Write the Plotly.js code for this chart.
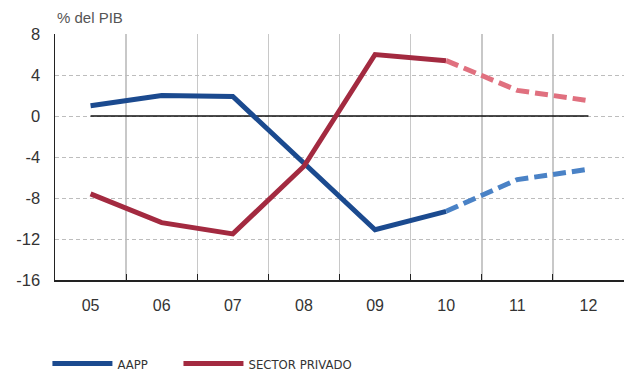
<!DOCTYPE html>
<html>
<head>
<meta charset="utf-8">
<script src="https://cdn.plot.ly/plotly-3.0.1.min.js"></script>
<style>html,body{margin:0;padding:0;background:#fff}#chart{width:624px;height:374px}</style>
</head>
<body>
<div id="chart"></div>
<script>
var years = ['05','06','07','08','09','10','11','12'];
var aapp = [1.0, 2.0, 1.9, -4.6, -11.1, -9.3, -6.2, -5.2];
var privado = [-7.6, -10.4, -11.5, -4.9, 6.0, 5.4, 2.5, 1.5];
var yTickVals = [8, 4, 0, -4, -8, -12, -16];
var yTickText = ['8', '4', '0', '-4', '-8', '-12', '-16'];
var forecastStart = 5;

var blue = '#1b4a8f', blueLight = '#4a82c6';
var red = '#a32a40', redLight = '#e0707f';

var traces = [
  {x: years.slice(0, forecastStart + 1), y: aapp.slice(0, forecastStart + 1), name: 'AAPP', type: 'scatter', mode: 'lines',
   line: {color: blue, width: 5}, legend: 'legend'},
  {x: years.slice(0, forecastStart + 1), y: privado.slice(0, forecastStart + 1), name: 'SECTOR PRIVADO', type: 'scatter', mode: 'lines',
   line: {color: red, width: 5}, legend: 'legend2'},
  {x: years.slice(forecastStart), y: aapp.slice(forecastStart), showlegend: false, type: 'scatter', mode: 'lines',
   line: {color: blueLight, width: 5, dash: '13px,6px'}},
  {x: years.slice(forecastStart), y: privado.slice(forecastStart), showlegend: false, type: 'scatter', mode: 'lines',
   line: {color: redLight, width: 5, dash: '13px,6px'}}
];

var legendFont = {size: 13, color: '#333', family: 'DejaVu Sans Condensed, Liberation Sans, sans-serif'};

var layout = {
  width: 624, height: 374,
  margin: {l: 55, r: 0, t: 34, b: 94, autoexpand: false},
  paper_bgcolor: '#fff', plot_bgcolor: '#fff',
  font: {family: 'Liberation Sans, Arial, sans-serif', color: '#333'},
  showlegend: true,
  legend: {orientation: 'h', xref: 'container', x: 0.076, xanchor: 'left', yref: 'container', y: 0.028, yanchor: 'middle',
           font: legendFont, itemwidth: 60},
  legend2: {orientation: 'h', xref: 'container', x: 0.286, xanchor: 'left', yref: 'container', y: 0.028, yanchor: 'middle',
           font: legendFont, itemwidth: 60},
  xaxis: {type: 'category', range: [-0.5, 7.5], tickson: 'boundaries', ticks: 'inside', ticklen: 6,
          tickcolor: '#222', showgrid: true, gridcolor: '#c8c8c8', gridwidth: 1.5,
          showline: true, linecolor: '#222', linewidth: 1.5, zeroline: false, ticklabelstandoff: 10,
          tickfont: {size: 16, color: '#333'}, fixedrange: true},
  yaxis: {range: [-16, 8], tickvals: yTickVals, ticktext: yTickText, ticks: '',
          showgrid: true, gridcolor: '#bdbdbd', griddash: '4px,3px', gridwidth: 1,
          showline: true, linecolor: '#222', linewidth: 1.5, zeroline: false, ticklabelstandoff: 10,
          tickfont: {size: 16.5, color: '#333'}, fixedrange: true},
  shapes: [{type: 'line', xref: 'x', yref: 'y', x0: 0, x1: years.length - 1, y0: 0, y1: 0,
            line: {color: '#111', width: 1.3}, layer: 'between'}],
  annotations: [{text: '% del PIB', xref: 'paper', yref: 'paper', x: 0, y: 1, xanchor: 'left', yanchor: 'bottom',
                 yshift: 6, showarrow: false, font: {size: 15, color: '#555'}}]
};

Plotly.newPlot('chart', traces, layout, {displayModeBar: false, staticPlot: true});
</script>
</body>
</html>
